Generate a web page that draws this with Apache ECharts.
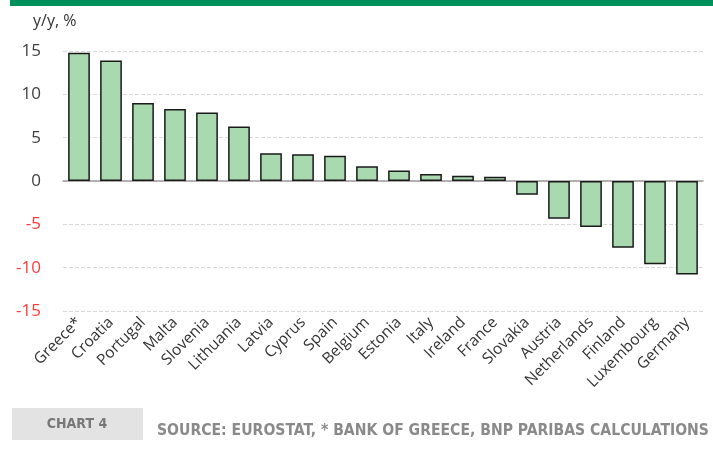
<!DOCTYPE html>
<html><head><meta charset="utf-8">
<script src="https://cdn.jsdelivr.net/npm/echarts@6/dist/echarts.min.js"></script>
<style>html,body{margin:0;padding:0;background:#fff}#c{width:713px;height:451px}</style>
</head><body><div id="c"></div>
<script>
const categories = ["Greece*","Croatia","Portugal","Malta","Slovenia","Lithuania","Latvia","Cyprus","Spain","Belgium","Estonia","Italy","Ireland","France","Slovakia","Austria","Netherlands","Finland","Luxembourg","Germany"];
const values = [14.8,13.9,9.0,8.3,7.9,6.3,3.2,3.1,2.9,1.7,1.2,0.8,0.6,0.5,-1.6,-4.35,-5.3,-7.7,-9.6,-10.8];
const yTicks = {min:-15, max:15, interval:5};
const unitLabel = "y/y, %";
const chartTag = "CHART 4";
const sourceText = "SOURCE: EUROSTAT, * BANK OF GREECE, BNP PARIBAS CALCULATIONS";

const chart = echarts.init(document.getElementById('c'), null, {renderer:'canvas'});
chart.setOption({
  animation:false,
  grid:{left:63, right:10, top:51, bottom:140, containLabel:false},
  xAxis:{type:'category', data:categories,
    axisLine:{onZero:true, lineStyle:{color:'#9a9a9a', width:1.5}},
    axisTick:{show:false},
    axisLabel:{rotate:45, interval:0, margin:9, color:'#333', fontFamily:'Open Sans', fontSize:15.5}
  },
  yAxis:{type:'value', min:yTicks.min, max:yTicks.max, interval:yTicks.interval,
    axisLine:{show:false}, axisTick:{show:false},
    splitLine:{lineStyle:{color:'#d9d9d9', type:[4,2], width:1}},
    axisLabel:{margin:22, fontFamily:'Open Sans', fontSize:17,
      color:function(v){return v<0?'#ff3b3b':'#404040';}}
  },
  series:[{type:'bar', data:values, barWidth:'68%',
    itemStyle:{color:'#a9d9ae', borderColor:'#1a1a1a', borderWidth:1.5}}],
  graphic:[
    {type:'rect', left:10, top:0, shape:{width:703, height:6}, style:{fill:'#00905a'}},
    {type:'text', left:33, top:13, style:{text:unitLabel, font:'16px "Open Sans"', fill:'#333'}},
    {type:'rect', left:12, top:408, shape:{width:131, height:32}, style:{fill:'#e3e3e3'}},
    {type:'text', x:77, y:424, style:{text:chartTag, font:'bold 14px "DejaVu Sans Condensed"', fill:'#777', align:'center', verticalAlign:'middle'}},
    {type:'text', x:157, y:431, style:{text:sourceText, font:'bold 15.6px "DejaVu Sans Condensed"', fill:'#8a8a8a', align:'left', verticalAlign:'middle'}}
  ]
});
</script></body></html>
